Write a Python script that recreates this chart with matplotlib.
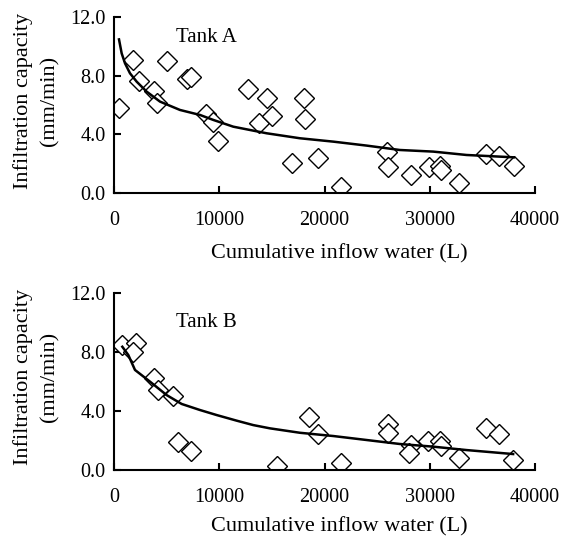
import matplotlib.pyplot as plt

plt.rcParams['font.family'] = 'Liberation Serif'

# Tank A observations
a_x = [475, 1835, 2405, 3800, 4115, 5000, 6965, 7310, 8740, 9370, 9910,
       12760, 13800, 14500, 14970, 16930, 18070, 18140, 19400, 21530,
       25900, 26050, 28180, 29915, 30960, 31020, 32760, 35330, 36590, 37990]
a_y = [5.82, 9.07, 7.63, 6.98, 6.11, 9.0, 7.77, 7.93, 5.36, 4.86, 3.54,
       7.07, 4.79, 6.45, 5.27, 2.07, 6.45, 5.04, 2.41, 0.43,
       2.82, 1.75, 1.23, 1.79, 1.86, 1.57, 0.66, 2.66, 2.55, 1.86]
# Tank A fitted curve
a_fx = [475, 728, 1045, 1519, 2153, 3102, 4368, 6268, 8167, 9433, 11330,
        14500, 17660, 20830, 24000, 27160, 30330, 33490, 37990]
a_fy = [10.47, 9.52, 8.84, 8.16, 7.59, 6.91, 6.23, 5.66, 5.32, 4.98, 4.52,
        4.07, 3.73, 3.50, 3.23, 2.93, 2.82, 2.59, 2.43]

# Tank B observations
b_x = [791, 2089, 1836, 3799, 4210, 5572, 6110, 7312, 15450, 18520, 19400,
       21530, 26050, 26050, 28180, 28050, 29850, 30960, 31020, 32760,
       35330, 36590, 37920]
b_y = [8.49, 8.61, 8.0, 6.20, 5.41, 5.03, 1.92, 1.29, 0.29, 3.56, 2.41,
       0.45, 3.11, 2.52, 1.69, 1.13, 1.96, 1.96, 1.65, 0.79,
       2.82, 2.44, 0.68]
# Tank B fitted curve
b_fx = [791, 1361, 1994, 3419, 5001, 6425, 8167, 9750, 11650, 13230, 14810,
        17660, 20830, 24000, 27160, 30330, 33490, 37920]
b_fy = [8.34, 7.78, 6.77, 5.98, 5.07, 4.47, 4.06, 3.72, 3.34, 3.04, 2.82,
        2.52, 2.30, 2.03, 1.76, 1.58, 1.35, 1.08]

xticks = [0, 10000, 20000, 30000, 40000]
yticks = [0, 4, 8, 12]

fig = plt.figure(figsize=(5.63, 5.39), dpi=100)
axA = fig.add_axes([0.2025, 0.642, 0.7478, 0.3265])
axB = fig.add_axes([0.2025, 0.128, 0.7478, 0.329])

panels = [(axA, a_x, a_y, a_fx, a_fy, 'Tank A', 10.6, -0.347),
          (axB, b_x, b_y, b_fx, b_fy, 'Tank B', 9.95, -0.321)]
for ax, x, y, fx, fy, name, ty, xl_y in panels:
    ax.plot(x, y, linestyle='none', marker='D', markersize=10,
            markerfacecolor='white', markeredgecolor='black', markeredgewidth=1)
    ax.plot(fx, fy, color='black', linewidth=1.8)
    ax.set_xlim(0, 40000)
    ax.set_ylim(0, 12)
    ax.set_xticks(xticks)
    ax.set_yticks(yticks)
    ax.set_yticklabels(['%.1f' % v for v in yticks])
    ax.spines['top'].set_visible(False)
    ax.spines['right'].set_visible(False)
    ax.spines['left'].set_linewidth(1.5)
    ax.spines['bottom'].set_linewidth(1.5)
    ax.tick_params(direction='in', length=5, width=1.5, labelsize=14.5)
    ax.tick_params(axis='x', pad=13)
    ax.tick_params(axis='y', pad=6)
    ax.set_xlabel('Cumulative inflow water (L)', fontsize=16, va='center')
    ax.xaxis.set_label_coords(0.535, xl_y)
    ax.set_ylabel('Infiltration capacity\n(mm/min)', fontsize=16, va='center',
                  linespacing=1.5)
    ax.yaxis.set_label_coords(-0.185, 0.523)
    ax.text(5890, ty, name, fontsize=15, va='center', ha='left')

fig.savefig('out.png', dpi=100)
